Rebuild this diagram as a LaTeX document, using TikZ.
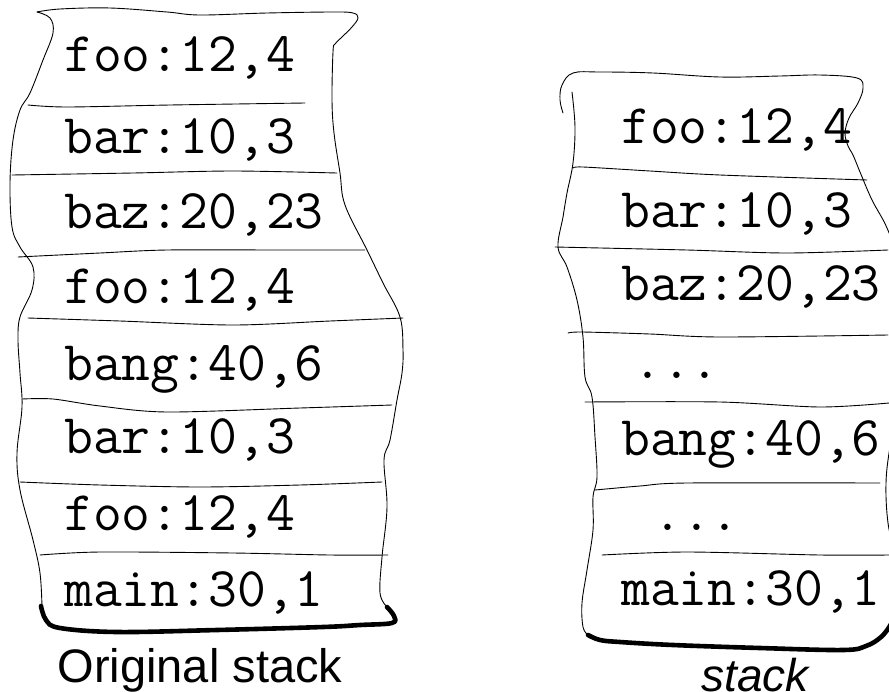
\documentclass[tikz,border=0pt]{standalone}
\usepackage{fontspec}
\setmainfont{Liberation Sans}
\begin{document}
\begin{tikzpicture}[x=1pt,y=-1pt,
  outline/.style={line width=0.9pt, line join=round, line cap=round},
  bottomline/.style={line width=4.6pt, line cap=round, line join=round},
  frame/.style={font=\ttfamily\fontsize{56}{56}\selectfont, anchor=base west, inner sep=0pt},
  caption/.style={font=\fontsize{47}{47}\selectfont, anchor=base, inner sep=0pt}]
\useasboundingbox (0,0) rectangle (889,691);
\clip (0,0) rectangle (889,691);

% ---------- left stack: hand-drawn outline ----------
\draw[outline] plot[smooth, tension=0.6] coordinates {
  (42,607) (40,573) (33,540) (20,490) (17,453) (22,407) (20,373) (18,340)
  (20,317) (32,290) (33,267) (20,247) (12,227) (10,183) (13,140) (20,110)
  (30,93) (43,60) (53,33) (50,18) (37,12)};
\draw[outline] plot[smooth, tension=0.6] coordinates {
  (37,12) (60,9) (110,8) (167,12) (200,15) (267,13) (333,12) (353,13)
  (358,18) (352,27) (342,37) (335,44) (333,52) (332,100) (334,133) (340,173)
  (345,205) (367,250) (383,283) (400,317) (403,350) (402,373) (397,400)
  (390,440) (384,460) (387,507) (382,557) (380,593) (387,607)};
% heavy base line
\draw[bottomline] plot[smooth, tension=0.6] coordinates {
  (41,606) (46,620) (60,628) (117,632) (217,630) (323,627) (360,625)
  (392,623) (394,616) (387,607)};
% frame separators
\draw[outline] plot[smooth] coordinates {(28,105) (67,107) (170,105) (305,103)};
\draw[outline] plot[smooth] coordinates {(12,175) (133,173) (233,171) (337,173)};
\draw[outline] plot[smooth] coordinates {(18,257) (100,253) (167,250) (280,250) (365,250)};
\draw[outline] plot[smooth] coordinates {(28,318) (120,321) (233,325) (330,321) (403,318)};
\draw[outline] plot[smooth] coordinates {(22,399) (53,399) (100,406) (167,412) (300,408) (392,405)};
\draw[outline] plot[smooth] coordinates {(20,482) (100,485) (200,487) (300,485) (382,482)};
\draw[outline] plot[smooth] coordinates {(40,555) (100,552) (233,553) (330,555) (388,555)};

% frame labels
\node[frame] (l1) at (64,71)  {foo:12,4};
\node[frame] (l2) at (64,153) {bar:10,3};
\node[frame] (l3) at (64,228) {baz:20,23};
\node[frame] (l4) at (64,303) {foo:12,4};
\node[frame] (l5) at (64,380) {bang:40,6};
\node[frame] (l6) at (64,453) {bar:10,3};
\node[frame] (l7) at (64,530) {foo:12,4};
\node[frame] (l8) at (64,606) {main:30,1};
\node[caption] (cap1) at (200,682) {Original stack};

% ---------- right stack: hand-drawn outline ----------
\draw[outline] plot[smooth, tension=0.6] coordinates {
  (563,113) (560,100) (562,85) (573,73) (600,72) (653,73) (720,77) (780,76)
  (820,75) (857,78) (863,88) (858,103) (849,118) (845,133) (848,146)
  (853,155) (860,172) (872,200) (887,228) (898,262) (904,330) (898,410)
  (890,447) (886,483) (888,523) (896,560) (900,600) (893,625)};
\draw[outline] plot[smooth, tension=0.6] coordinates {
  (572,92) (575,127) (573,163) (567,193) (563,217) (558,247) (567,267)
  (577,300) (583,337) (585,377) (592,397) (595,437) (597,477) (593,497)
  (593,530) (587,570) (582,603) (583,627) (588,635)};
\draw[bottomline] plot[smooth, tension=0.6] coordinates {
  (588,635) (600,640) (620,642) (673,645) (760,648) (843,650) (866,646)
  (881,637) (891,624) (896,610)};
% frame separators
\draw[outline] plot[smooth] coordinates {(573,168) (583,167) (650,171) (720,175) (867,180)};
\draw[outline] plot[smooth] coordinates {(555,247) (687,250) (787,253) (888,250)};
\draw[outline] plot[smooth] coordinates {(568,333) (582,332) (650,334) (720,337) (888,335)};
\draw[outline] plot[smooth] coordinates {(585,402) (720,402) (820,407) (889,403)};
\draw[outline] plot[smooth] coordinates {(595,490) (640,486) (687,483) (880,483)};
\draw[outline] plot[smooth] coordinates {(602,555) (687,552) (820,555) (889,555)};

% frame labels
\node[frame] (r1) at (621,143) {foo:12,4};
\node[frame] (r2) at (621,227) {bar:10,3};
\node[frame] (r3) at (621,300) {baz:20,23};
\node[frame] (r4) at (633,378) {...};
\node[frame] (r5) at (621,455) {bang:40,6};
\node[frame] (r6) at (653,530) {...};
\node[frame] (r7) at (621,605) {main:30,1};
\node[caption, font=\itshape\fontsize{46}{46}\selectfont] (cap2) at (755,691) {stack};
\end{tikzpicture}
\end{document}
